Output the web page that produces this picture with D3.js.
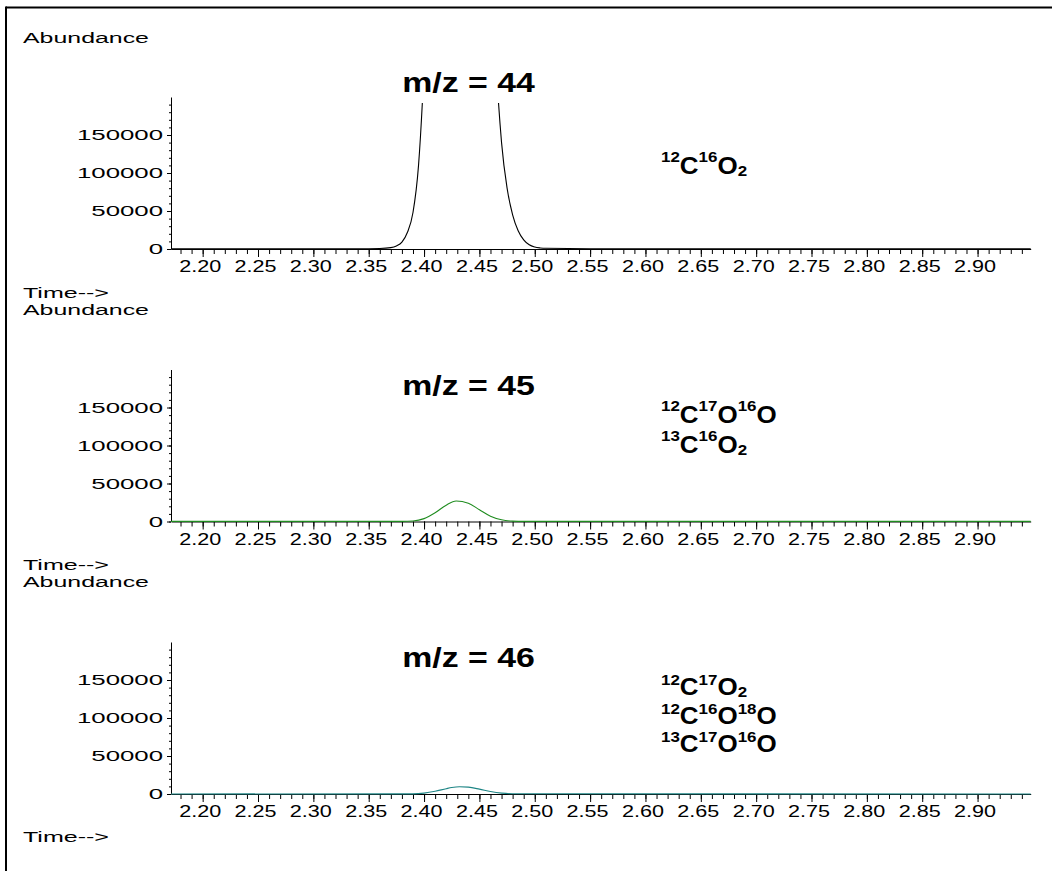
<!DOCTYPE html>
<html>
<head>
<meta charset="utf-8">
<script src="https://cdn.jsdelivr.net/npm/d3@7/dist/d3.min.js"></script>
<style>
  html, body { margin: 0; padding: 0; background: #fff; }
  svg { display: block; }
  text { font-family: "Liberation Sans", Arial, Helvetica, sans-serif; fill: #000; }
</style>
</head>
<body>
<svg id="chart" width="1052" height="871"></svg>
<script>
// Ion chromatograms of CO2 isotopologues, one panel per m/z trace.

const xTickLabels = [2.20, 2.25, 2.30, 2.35, 2.40, 2.45, 2.50, 2.55, 2.60, 2.65, 2.70, 2.75, 2.80, 2.85, 2.90];
const yTickLabels = [0, 50000, 100000, 150000];

// retention time (min) sample points for each trace
const time44 = [2.171, 2.30, 2.35, 2.36, 2.37, 2.375, 2.38, 2.385, 2.39, 2.395, 2.40, 2.41, 2.42, 2.432, 2.445, 2.455, 2.46, 2.465, 2.47, 2.475, 2.48, 2.485, 2.49, 2.495, 2.50, 2.505, 2.51, 2.55, 2.948];
const abund44 = [300, 300, 400, 600, 1800, 4000, 9000, 22000, 48000, 110000, 240000, 700000, 1500000, 2300000, 1500000, 800000, 450000, 250000, 140000, 80000, 45000, 24000, 12000, 5500, 2600, 1400, 900, 400, 300];

const time45 = [2.171, 2.38, 2.39, 2.40, 2.41, 2.42, 2.429, 2.44, 2.45, 2.46, 2.47, 2.48, 2.49, 2.948];
const abund45 = [100, 150, 700, 3800, 11500, 21500, 27000, 24000, 15500, 7000, 2200, 500, 150, 100];

const time46 = [2.171, 2.39, 2.40, 2.41, 2.42, 2.425, 2.432, 2.44, 2.45, 2.46, 2.47, 2.48, 2.948];
const abund46 = [50, 200, 1200, 3600, 7000, 8500, 9500, 9000, 6400, 3200, 1100, 300, 50];

const panelTitles = ["m/z = 44", "m/z = 45", "m/z = 46"];

// isotopologue labels: [text, role] where role is "sup", "sub" or "" (normal)
const formulas44 = [
  [["12","sup"],["C",""],["16","sup"],["O",""],["2","sub"]]
];
const formulas45 = [
  [["12","sup"],["C",""],["17","sup"],["O",""],["16","sup"],["O",""]],
  [["13","sup"],["C",""],["16","sup"],["O",""],["2","sub"]]
];
const formulas46 = [
  [["12","sup"],["C",""],["17","sup"],["O",""],["2","sub"]],
  [["12","sup"],["C",""],["16","sup"],["O",""],["18","sup"],["O",""]],
  [["13","sup"],["C",""],["17","sup"],["O",""],["16","sup"],["O",""]]
];

const panels = [
  { time: time44, abund: abund44, title: panelTitles[0], formulas: formulas44, color: "#000000", titleY: 92, formulaY: [174], supRise: 12 },
  { time: time45, abund: abund45, title: panelTitles[1], formulas: formulas45, color: "#1f8c1f", titleY: 395, formulaY: [422.5, 452.5], supRise: 12 },
  { time: time46, abund: abund46, title: panelTitles[2], formulas: formulas46, color: "#1e8585", titleY: 667, formulaY: [695, 723.5, 752], supRise: 10 }
];

const svg = d3.select("#chart");

// page frame (top and left edges)
svg.append("line").attr("x1", 6).attr("x2", 1052).attr("y1", 7.5).attr("y2", 7.5)
  .attr("stroke", "#000").attr("stroke-width", 2);
svg.append("line").attr("x1", 6).attr("x2", 6).attr("y1", 6.5).attr("y2", 871)
  .attr("stroke", "#000").attr("stroke-width", 2);

const x = d3.scaleLinear().domain([2.1714, 2.948]).range([171, 1030.7]);
const panelPitch = 272.5;
const firstZero = 249;
const yMax = 200000;
const plotH = 152;

const minorX = d3.range(218, 295).map(v => v / 100);
const minorY = d3.range(0, 200000, 10000);

panels.forEach((p, i) => {
  const zeroY = firstZero + i * panelPitch;
  const topY = zeroY - plotH;
  const y = d3.scaleLinear().domain([0, yMax]).range([zeroY, topY]);
  const g = svg.append("g");

  // "Abundance" and "Time-->" captions
  g.append("text").attr("transform", `translate(23,${43 + i * 272}) scale(1.66,1)`)
    .attr("font-size", 15).text("Abundance");
  g.append("text").attr("transform", `translate(23,${298 + i * 272}) scale(1.67,1)`)
    .attr("font-size", 15).text("Time-->");

  // x axis: minor ticks every 0.01, labelled ticks every 0.05
  const xMinor = g.append("g").attr("transform", `translate(0,${zeroY})`)
    .call(d3.axisBottom(x).tickValues(minorX).tickSize(5).tickSizeOuter(0).tickFormat(""));
  xMinor.select(".domain").attr("stroke", "#000");
  xMinor.selectAll(".tick line").attr("stroke", "#000");

  const xMajor = g.append("g").attr("transform", `translate(0,${zeroY})`)
    .call(d3.axisBottom(x).tickValues(xTickLabels).tickSize(8).tickSizeOuter(0).tickPadding(4)
      .tickFormat(d3.format(".2f")));
  xMajor.select(".domain").remove();
  xMajor.selectAll(".tick line").attr("stroke", "#000");
  xMajor.selectAll(".tick text")
    .attr("font-size", 16).attr("fill", "#000")
    .attr("font-family", "'Liberation Sans', Arial, Helvetica, sans-serif")
    .attr("x", -3 / 1.35)
    .attr("transform", "scale(1.35,1)");

  // y axis: minor ticks every 10000, labelled ticks every 50000
  const yMinor = g.append("g").attr("transform", "translate(171,0)")
    .call(d3.axisLeft(y).tickValues(minorY).tickSize(2).tickSizeOuter(0).tickFormat(""));
  yMinor.select(".domain").attr("stroke", "#000");
  yMinor.selectAll(".tick line").attr("stroke", "#000");

  const yMajor = g.append("g").attr("transform", "translate(171,0)")
    .call(d3.axisLeft(y).tickValues(yTickLabels).tickSize(4).tickSizeOuter(0).tickPadding(4)
      .tickFormat(d3.format("d")));
  yMajor.select(".domain").remove();
  yMajor.selectAll(".tick line").attr("stroke", "#000");
  yMajor.selectAll(".tick text")
    .attr("font-size", 15).attr("fill", "#000")
    .attr("font-family", "'Liberation Sans', Arial, Helvetica, sans-serif")
    .attr("x", -8 / 1.72)
    .attr("transform", "scale(1.72,1)");

  // trace, clipped just under the top of the y axis
  const clipId = "clip" + i;
  g.append("clipPath").attr("id", clipId).append("rect")
    .attr("x", 171).attr("y", topY + 6).attr("width", 860).attr("height", plotH);
  const pts = p.time.map((t, k) => [t, p.abund[k]]);
  g.append("path").datum(pts)
    .attr("clip-path", `url(#${clipId})`)
    .attr("fill", "none").attr("stroke", p.color).attr("stroke-width", 1.1)
    .attr("d", d3.line().x(d => x(d[0])).y(d => y(d[1])).curve(d3.curveMonotoneX));

  // panel title
  g.append("text").attr("transform", `translate(468.5,${p.titleY}) scale(1.21,1)`)
    .attr("text-anchor", "middle").attr("font-size", 28).attr("font-weight", "bold")
    .text(p.title);

  // isotopologue formulas
  p.formulas.forEach((parts, j) => {
    const t = g.append("text")
      .attr("transform", `translate(661,${p.formulaY[j]}) scale(1.13,1)`)
      .attr("font-weight", "bold").attr("font-size", 23);
    let shift = 0;
    parts.forEach(([s, role]) => {
      const target = role === "sup" ? -p.supRise : role === "sub" ? 2 : 0;
      t.append("tspan")
        .attr("dy", target - shift)
        .attr("font-size", role ? 15 : 23)
        .text(s);
      shift = target;
    });
  });
});
</script>
</body>
</html>
